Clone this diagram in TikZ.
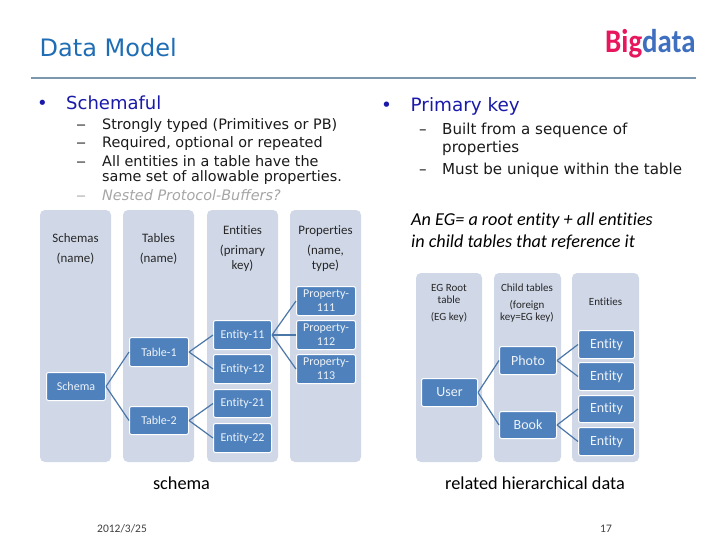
\documentclass[tikz,border=0pt]{standalone}
\usepackage{fontspec}
\setmainfont{DejaVu Sans}
\newfontfamily\calfont[Ligatures=CommonOff]{Carlito}
\definecolor{panelc}{HTML}{D0D8E8}
\definecolor{nodec}{HTML}{4F81BD}
\definecolor{linkc}{HTML}{4A76A8}
\definecolor{titlec}{HTML}{1F6DB5}
\definecolor{headc}{HTML}{1A1AAA}
\definecolor{rulec}{HTML}{7A97AE}
\definecolor{bodyc}{HTML}{1A1A1A}
\definecolor{greyc}{HTML}{A6A6A6}
\definecolor{pinkc}{HTML}{E8175D}
\definecolor{bluec}{HTML}{3F6FBF}
\tikzset{
 x=1pt,y=-1pt,
 panel/.style={fill=panelc,draw=none,rounded corners=5pt},
 boxn/.style={fill=nodec,draw=white,line width=1pt,rounded corners=2pt,inner sep=0pt},
 linkl/.style={draw=linkc,line width=1.2pt},
 txt/.style={anchor=base west,inner sep=0pt,font=\fontsize{14.4}{16}\selectfont,text=bodyc},
 txtr/.style={anchor=base west,inner sep=0pt,font=\fontsize{15.1}{16}\selectfont,text=bodyc},
 headt/.style={anchor=base west,inner sep=0pt,font=\fontsize{18}{20}\selectfont,text=headc},
 capt/.style={anchor=base,inner sep=0pt,font=\calfont\fontsize{18.3}{21}\selectfont,text=black},
 lab/.style={anchor=base,inner sep=0pt,align=center,font=\calfont\fontsize{12.9}{14.5}\selectfont,text=black!85},
 labs/.style={anchor=base,inner sep=0pt,align=center,font=\calfont\fontsize{11}{12.5}\selectfont,text=black!85},
 wlab/.style={text=white!90!nodec,align=center,font=\calfont\fontsize{12}{14}\selectfont},
 wlabb/.style={text=white!90!nodec,align=center,font=\calfont\fontsize{14}{16}\selectfont},
 egline/.style={anchor=base west,inner sep=0pt,font=\calfont\itshape\fontsize{18.2}{20}\selectfont,text=black},
}
\newcommand{\boxat}[6]{\node[boxn,#6,minimum width=#4 pt-#2 pt,minimum height=#5 pt-#3 pt,anchor=north west] (#1) at (#2,#3) {};}
\newcommand{\longdash}{\scalebox{1.4}[1]{–}}
\begin{document}
\begin{tikzpicture}
\useasboundingbox (0,0) rectangle (728,546);
\fill[white] (0,0) rectangle (728,546);
% header
\node[anchor=base west,inner sep=0pt,font=\fontsize{24}{28}\selectfont,text=titlec] (title) at (39.5,56) {Data Model};
\node[anchor=base west,inner sep=0pt,font=\calfont\bfseries\fontsize{33}{33}\selectfont] (logo) at (605,52) {\scalebox{0.875}[1]{\textcolor{pinkc}{Big}\textcolor{bluec}{data}}};
\coordinate (ra) at (31,78); \coordinate (rb) at (696,78);
\draw[rulec,line width=1.5pt] (ra) -- (rb);
% left text
\node[headt] (b1) at (37,109) {•};
\node[headt] (h1) at (66,109) {Schemaful};
\node[txt] (d1) at (76,129) {\longdash}; \node[txt] (t1) at (102,129) {Strongly typed (Primitives or PB)};
\node[txt] (d2) at (76,147) {\longdash}; \node[txt] (t2) at (102,147) {Required, optional or repeated};
\node[txt] (d3) at (76,166) {\longdash}; \node[txt] (t3) at (102,166) {All entities in a table have the};
\node[txt] (t3b) at (102,181) {same set of allowable properties.};
\node[txt,text=greyc] (d4) at (76,200) {\longdash}; \node[txt,text=greyc,font=\fontsize{14.4}{16}\selectfont\itshape] (t4) at (102,200) {Nested Protocol-Buffers?};
% right text
\node[headt,font=\fontsize{18.4}{20}\selectfont] (b2) at (381,111) {•};
\node[headt,font=\fontsize{18.4}{20}\selectfont] (h2) at (410.5,111) {Primary key};
\node[txtr] (d5) at (419,134) {–}; \node[txtr] (t5) at (442,134) {Built from a sequence of};
\node[txtr] (t5b) at (442,152) {properties};
\node[txtr] (d6) at (419,174) {–}; \node[txtr] (t6) at (442,174) {Must be unique within the table};
\node[egline] (e1) at (411,225) {An EG= a root entity + all entities};
\node[egline] (e2) at (411,247) {in child tables that reference it};
% panels left
\fill[panel] (40,210) rectangle (111,462);
\fill[panel] (123,210) rectangle (194,462);
\fill[panel] (207,210) rectangle (278,462);
\fill[panel] (290,210) rectangle (361,462);
\node[lab] (l1) at (75.5,242) {Schemas}; \node[lab] (l1b) at (75.5,262) {(name)};
\node[lab] (l2) at (158.5,242) {Tables}; \node[lab] (l2b) at (158.5,262) {(name)};
\node[lab] (l3) at (242.5,234) {Entities}; \node[lab] (l3b) at (242.5,254) {(primary}; \node[lab] (l3c) at (242.5,269) {key)};
\node[lab] (l4) at (325.5,234) {Properties}; \node[lab] (l4b) at (325.5,254) {(name,}; \node[lab] (l4c) at (325.5,269) {type)};
% panels right
\fill[panel] (416,273) rectangle (482,462);
\fill[panel] (494,273) rectangle (561,462);
\fill[panel] (572,273) rectangle (639,462);
\node[labs] (r1) at (449,291) {EG Root}; \node[labs] (r1b) at (449,303) {table}; \node[labs] (r1c) at (449,320) {(EG key)};
\node[labs] (r2) at (527,291) {Child tables}; \node[labs] (r2b) at (527,308) {(foreign}; \node[labs] (r2c) at (527,320) {key=EG key)};
\node[labs] (r3) at (605.5,305) {Entities};
% boxes left
\boxat{sch}{46}{372}{105}{400}{}
\boxat{ta}{129}{337}{188}{366}{}
\boxat{tb}{129}{406}{188}{434}{}
\boxat{e11}{213}{320}{271}{349}{}
\boxat{e12}{213}{354}{271}{383}{}
\boxat{e21}{213}{389}{271}{417}{}
\boxat{e22}{213}{423}{271}{452}{}
\boxat{p1}{296}{286}{355}{315}{}
\boxat{p2}{296}{320}{355}{349}{}
\boxat{p3}{296}{354}{355}{383}{}
\node[wlab] at (sch) {Schema}; \node[wlab] at (ta) {Table-1}; \node[wlab] at (tb) {Table-2};
\node[wlab] at (e11) {Entity-11}; \node[wlab] at (e12) {Entity-12};
\node[wlab] at (e21) {Entity-21}; \node[wlab] at (e22) {Entity-22};
\node[wlab] at (p1) {Property-\\111}; \node[wlab] at (p2) {Property-\\112}; \node[wlab] at (p3) {Property-\\113};
\draw[linkl] (sch.east) -- (ta.west); \draw[linkl] (sch.east) -- (tb.west);
\draw[linkl] (ta.east) -- (e11.west); \draw[linkl] (ta.east) -- (e12.west);
\draw[linkl] (tb.east) -- (e21.west); \draw[linkl] (tb.east) -- (e22.west);
\draw[linkl] (e11.east) -- (p1.west); \draw[linkl] (e11.east) -- (p2.west); \draw[linkl] (e11.east) -- (p3.west);
% boxes right
\boxat{usr}{421}{378}{477}{406}{}
\boxat{pho}{499}{346}{556}{374}{}
\boxat{bok}{499}{411}{556}{438}{}
\boxat{en1}{578}{330}{634}{358}{}
\boxat{en2}{578}{362}{634}{390}{}
\boxat{en3}{578}{395}{634}{422}{}
\boxat{en4}{578}{427}{634}{455}{}
\node[wlabb] at (usr) {User}; \node[wlabb] at (pho) {Photo}; \node[wlabb] at (bok) {Book};
\node[wlabb] at (en1) {Entity}; \node[wlabb] at (en2) {Entity}; \node[wlabb] at (en3) {Entity}; \node[wlabb] at (en4) {Entity};
\draw[linkl] (usr.east) -- (pho.west); \draw[linkl] (usr.east) -- (bok.west);
\draw[linkl] (pho.east) -- (en1.west); \draw[linkl] (pho.east) -- (en2.west);
\draw[linkl] (bok.east) -- (en3.west); \draw[linkl] (bok.east) -- (en4.west);
% captions
\node[capt] (c1) at (181.5,489) {schema};
\node[capt] (c2) at (535,489) {related hierarchical data};
\node[anchor=base west,inner sep=0pt,font=\calfont\fontsize{11.5}{14}\selectfont,text=black!75] (date) at (97,532) {2012/3/25};
\node[anchor=base,inner sep=0pt,font=\calfont\fontsize{11.5}{14}\selectfont,text=black!75] (num) at (606,532) {17};
\end{tikzpicture}
\end{document}
